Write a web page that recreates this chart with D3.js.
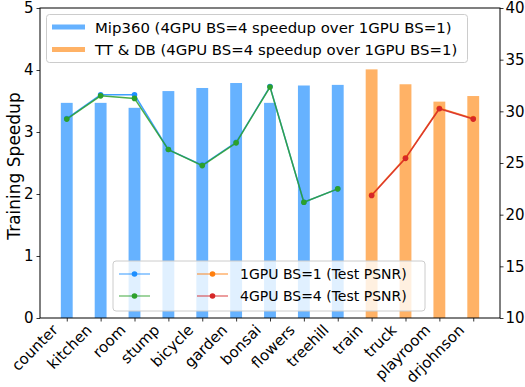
<!DOCTYPE html>
<html><head><meta charset="utf-8">
<script src="https://cdn.jsdelivr.net/npm/d3@7"></script>
<style>body{margin:0;background:#fff}svg{font-family:"DejaVu Sans",sans-serif}</style>
</head><body><svg id="c" width="525" height="387"></svg>
<script>
const categories = ["counter","kitchen","room","stump","bicycle","garden","bonsai","flowers","treehill","train","truck","playroom","drjohnson"];
const mipScenes = categories.slice(0,9);
const ttdbScenes = categories.slice(9);
const mipSpeedup = [3.47,3.47,3.39,3.66,3.71,3.79,3.47,3.75,3.76];
const ttdbSpeedup = [4.01,3.77,3.49,3.58];
const mip1gpuPSNR = [29.3,31.6,31.6,26.3,24.8,27.0,32.4,21.2,22.5];
const mip4gpuPSNR = [29.25,31.5,31.25,26.3,24.75,26.95,32.35,21.2,22.5];
const ttdb1gpuPSNR = [21.9,25.5,30.3,29.3];
const ttdb4gpuPSNR = [21.85,25.45,30.25,29.25];
const leftTicks = [0,1,2,3,4,5];
const rightTicks = [10,15,20,25,30,35,40];

const svg = d3.select("#c");
const L=40, R=500, T=8, B=318;
const x = d3.scaleLinear().domain([-0.79,12.79]).range([L,R]);
const xi = d => x(categories.indexOf(d));
const y = d3.scaleLinear().domain([0,5]).range([B,T]);
const y2 = d3.scaleLinear().domain([10,40]).range([B,T]);
const bw = x(0.35)-x(0);
const blueBar="#66b2ff", orangeBar="#ffb266";

// bars
svg.append("g").selectAll("rect").data(mipScenes).join("rect")
  .attr("x",d=>xi(d)-bw/2).attr("width",bw)
  .attr("y",(d,i)=>y(mipSpeedup[i])).attr("height",(d,i)=>B-y(mipSpeedup[i])).attr("fill",blueBar);
svg.append("g").selectAll("rect").data(ttdbScenes).join("rect")
  .attr("x",d=>xi(d)-bw/2).attr("width",bw)
  .attr("y",(d,i)=>y(ttdbSpeedup[i])).attr("height",(d,i)=>B-y(ttdbSpeedup[i])).attr("fill",orangeBar);

function series(scenes, vals, color){
  const g = svg.append("g");
  const line = d3.line().x((d,i)=>xi(scenes[i])).y(d=>y2(d));
  g.append("path").datum(vals).attr("d",line).attr("fill","none").attr("stroke",color).attr("stroke-width",1.5).attr("opacity",0.85);
  g.selectAll("circle").data(vals).join("circle").attr("cx",(d,i)=>xi(scenes[i])).attr("cy",d=>y2(d)).attr("r",2.8).attr("fill",color);
}
series(mipScenes, mip1gpuPSNR, "#1e8fff");
series(mipScenes, mip4gpuPSNR, "#2ca02c");
series(ttdbScenes, ttdb1gpuPSNR, "#ff7f0e");
series(ttdbScenes, ttdb4gpuPSNR, "#d62728");

// axes
const fs = "15px";
const gl = svg.append("g").attr("transform",`translate(${L},0)`).call(d3.axisLeft(y).tickValues(leftTicks).tickFormat(d3.format("d")).tickSize(3.5).tickPadding(3));
const gr = svg.append("g").attr("transform",`translate(${R},0)`).call(d3.axisRight(y2).tickValues(rightTicks).tickFormat(d3.format("d")).tickSize(3.5).tickPadding(2));
const gb = svg.append("g").attr("transform",`translate(0,${B})`).call(d3.axisBottom(x).tickValues(d3.range(categories.length)).tickFormat(i=>categories[i]).tickSize(3.5));
[gl,gr,gb].forEach(g=>{g.select(".domain").remove();g.selectAll("text").attr("font-size",fs).attr("fill","#000").attr("font-family","DejaVu Sans");g.selectAll("line").attr("stroke","#000").attr("stroke-width",0.8);});
gb.selectAll("text").attr("text-anchor","end").attr("dy","0").attr("y",0).attr("font-size","15px")
  .attr("transform","translate(-8.5,13) rotate(-45)");
svg.append("rect").attr("x",L).attr("y",T).attr("width",R-L).attr("height",B-T).attr("fill","none").attr("stroke","#000").attr("stroke-width",1);
svg.append("text").attr("transform",`translate(20,${(T+B)/2+3}) rotate(-90)`).attr("text-anchor","middle").attr("font-size","17px").text("Training Speedup");

// legend 1
const lg1 = svg.append("g");
lg1.append("rect").attr("x",46.5).attr("y",14.5).attr("width",421).attr("height",48).attr("rx",3).attr("fill","#fff").attr("fill-opacity",0.8).attr("stroke","#ccc");
[["Mip360 (4GPU BS=4 speedup over 1GPU BS=1)",blueBar,27],["TT & DB (4GPU BS=4 speedup over 1GPU BS=1)",orangeBar,49.5]].forEach(([t,c,yy])=>{
  lg1.append("line").attr("x1",52).attr("x2",85).attr("y1",yy).attr("y2",yy).attr("stroke",c).attr("stroke-width",5);
  lg1.append("text").attr("x",95).attr("y",yy+5.5).attr("font-size","14.9px").text(t);
});
// legend 2
const lg2 = svg.append("g");
lg2.append("rect").attr("x",113).attr("y",261).attr("width",312).attr("height",50).attr("rx",3).attr("fill","#fff").attr("fill-opacity",0.8).attr("stroke","#ccc");
const leg2 = [["",  "#1e8fff",119,274],["","#2ca02c",119,296],["1GPU BS=1 (Test PSNR)","#ff7f0e",197,274],["4GPU BS=4 (Test PSNR)","#d62728",197,296]];
leg2.forEach(([t,c,xx,yy])=>{
  lg2.append("line").attr("x1",xx).attr("x2",xx+31).attr("y1",yy).attr("y2",yy).attr("stroke",c).attr("stroke-width",1.5).attr("opacity",0.6);
  lg2.append("circle").attr("cx",xx+15.5).attr("cy",yy).attr("r",2.8).attr("fill",c);
  if(t) lg2.append("text").attr("x",xx+43).attr("y",yy+5).attr("font-size","14px").text(t);
});
</script></body></html>
